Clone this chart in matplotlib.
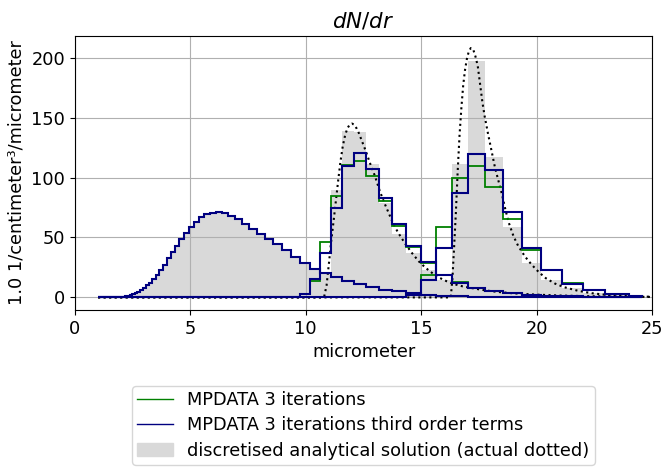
import matplotlib
matplotlib.use("Agg")
import matplotlib.pyplot as plt
from matplotlib.lines import Line2D
from matplotlib.patches import Patch

plt.rcParams['font.size'] = 12.8

# bin boundaries of the (log-spaced) radius grid, micrometer
r_edges = [1.010, 1.054, 1.100, 1.148, 1.199, 1.251, 1.306, 1.363, 1.422, 1.485,
           1.550, 1.617, 1.688, 1.762, 1.839, 1.919, 2.003, 2.091, 2.182, 2.278,
           2.377, 2.481, 2.590, 2.703, 2.821, 2.945, 3.073, 3.208, 3.348, 3.494,
           3.647, 3.807, 3.973, 4.147, 4.328, 4.518, 4.715, 4.921, 5.137, 5.361,
           5.596, 5.840, 6.096, 6.362, 6.641, 6.931, 7.234, 7.551, 7.881, 8.226,
           8.585, 8.961, 9.353, 9.762, 10.189, 10.635, 11.100, 11.585, 12.092, 12.621,
           13.173, 13.749, 14.350, 14.978, 15.633, 16.317, 17.030, 17.775, 18.553, 19.364,
           20.211, 21.095, 22.017, 22.980, 23.985, 24.550]

# initial spectrum (numerical == discretised analytical)
t0_vals = [0.0] * 16 + [
    0.3, 0.5, 0.8, 1.2, 1.9, 2.7, 3.6, 4.7, 6.0, 8.0,
    10.0, 12.3, 15.0, 18.5, 22.5, 27.0, 32.5, 38.0, 43.0, 48.5,
    54.0, 59.0, 63.3, 67.0, 69.6, 70.7, 71.0, 70.4, 68.3, 65.4,
    61.5, 56.8, 53.0, 48.8, 44.5, 39.5, 33.8, 28.5, 24.0, 20.0,
    17.0, 13.8, 11.2, 8.8, 6.6, 5.0, 3.4, 2.3, 1.5, 1.0,
    0.6, 0.4, 0.25, 0.15, 0.1, 0.05, 0.0, 0.0, 0.0]

# second output time
t1_green = [0.0] * 52 + [
    0.4, 2.5, 14.0, 46.0, 85.0, 110.5, 114.0, 101.0, 80.0, 59.5,
    42.0, 29.0, 18.8, 12.5, 8.0, 5.5, 3.5, 2.2, 1.3, 0.8,
    0.4, 0.2, 0.1]
t1_blue = [0.0] * 52 + [
    0.5, 3.0, 15.5, 37.0, 74.5, 110.0, 120.3, 107.0, 82.5, 61.0,
    42.5, 29.5, 18.3, 12.0, 7.8, 5.4, 3.4, 2.2, 1.3, 0.8,
    0.4, 0.2, 0.1]
t1_gray = [0.0] * 55 + [
    13.0, 89.7, 139.0, 138.0, 111.0, 79.0, 53.0, 37.0, 23.0, 14.5,
    10.0, 7.3, 5.5, 4.0, 2.8, 2.0, 1.3, 0.9, 0.7, 0.5]

# third output time
t2_green = [0.0] * 60 + [
    0.3, 0.7, 1.8, 18.3, 59.0, 99.4, 109.3, 92.5, 65.0, 39.7,
    23.2, 12.0, 6.2, 2.9, 1.0]
t2_blue = [0.0] * 60 + [
    0.3, 0.7, 1.8, 14.7, 41.0, 87.5, 119.8, 106.4, 71.6, 40.8,
    22.5, 11.4, 5.8, 2.8, 0.9]
t2_gray = [0.0] * 65 + [
    111.4, 197.5, 117.5, 59.0, 28.6, 14.2, 7.5, 3.3, 1.7, 0.8]

# analytical solutions (dotted)
t1_r = [1.0, 10.75, 10.8, 10.9, 11.0, 11.1, 11.2, 11.3, 11.4, 11.5,
        11.6, 11.7, 11.8, 11.9, 12.0, 12.1, 12.2, 12.3, 12.4, 12.5,
        12.6, 12.8, 13.0, 13.2, 13.4, 13.6, 13.8, 14.0, 14.3, 14.6,
        14.9, 15.2, 15.5, 15.8, 16.1, 16.4, 16.8, 17.3, 17.8, 18.3,
        19.0, 20.0, 21.0, 22.0, 23.0, 24.0, 25.0]
t1_an = [0, 0, 1, 10, 28, 47, 63, 80, 97, 113,
         126, 135, 141, 144, 145, 144, 141, 137, 132, 127,
         122, 111, 101, 89, 79, 70, 61, 54, 45, 37,
         30, 24.5, 20, 16.3, 13.5, 11.2, 9.2, 7.4, 5.8, 4.6,
         3.4, 2.3, 1.6, 1.1, 0.8, 0.5, 0.4]
t2_r = [1.0, 16.28, 16.35, 16.42, 16.5, 16.58, 16.66, 16.74, 16.82, 16.9,
        16.98, 17.06, 17.15, 17.25, 17.35, 17.45, 17.55, 17.65, 17.75, 17.9,
        18.05, 18.2, 18.35, 18.5, 18.65, 18.8, 19.0, 19.2, 19.5, 19.8,
        20.1, 20.4, 20.8, 21.2, 21.8, 22.4, 23.0, 23.8, 25.0]
t2_an = [0, 0, 15, 40, 70, 105, 135, 158, 177, 190,
         199, 205, 208, 207, 201, 193, 178, 163, 151, 136,
         122, 108, 97, 86, 73, 62, 51, 43, 34, 27,
         21, 16, 11.5, 8.5, 5.5, 3.5, 2.2, 1.2, 0.5]

labels = ["MPDATA 3 iterations",
          "MPDATA 3 iterations third order terms",
          "discretised analytical solution (actual dotted)"]
gray = '#d9d9d9'

fig = plt.figure(figsize=(6.66, 4.68), dpi=100)
ax = fig.add_axes([0.1126, 0.3376, 0.8664, 0.5854])

for vals in (t0_vals, t1_gray, t2_gray):
    ax.stairs(vals, r_edges, fill=True, color=gray, linewidth=0, zorder=1)

ax.plot(t1_r, t1_an, ':', color='black', lw=1.5, zorder=2)
ax.plot(t2_r, t2_an, ':', color='black', lw=1.5, zorder=2)

for g, b in ((t0_vals, t0_vals), (t1_green, t1_blue), (t2_green, t2_blue)):
    ax.stairs(g, r_edges, color='green', lw=1.3, zorder=3)
    ax.stairs(b, r_edges, color='navy', lw=1.5, zorder=4)

ax.set_axisbelow('line')
ax.grid(True)
ax.set_xlim(0, 25)
ax.set_ylim(-10.5, 218)
ax.set_xticks([0, 5, 10, 15, 20, 25])
ax.set_yticks([0, 50, 100, 150, 200])
ax.set_title('$dN/dr$')
ax.set_xlabel('micrometer')
ax.set_ylabel('1.0 1/centimeter³/micrometer')

handles = [Line2D([], [], color='green', lw=1.0),
           Line2D([], [], color='navy', lw=1.0),
           Patch(color=gray)]
ax.legend(handles, labels, loc='upper center', bbox_to_anchor=(0.5, -0.245),
          labelspacing=0.4, borderpad=0.3)

fig.savefig('out.png', dpi=100)
